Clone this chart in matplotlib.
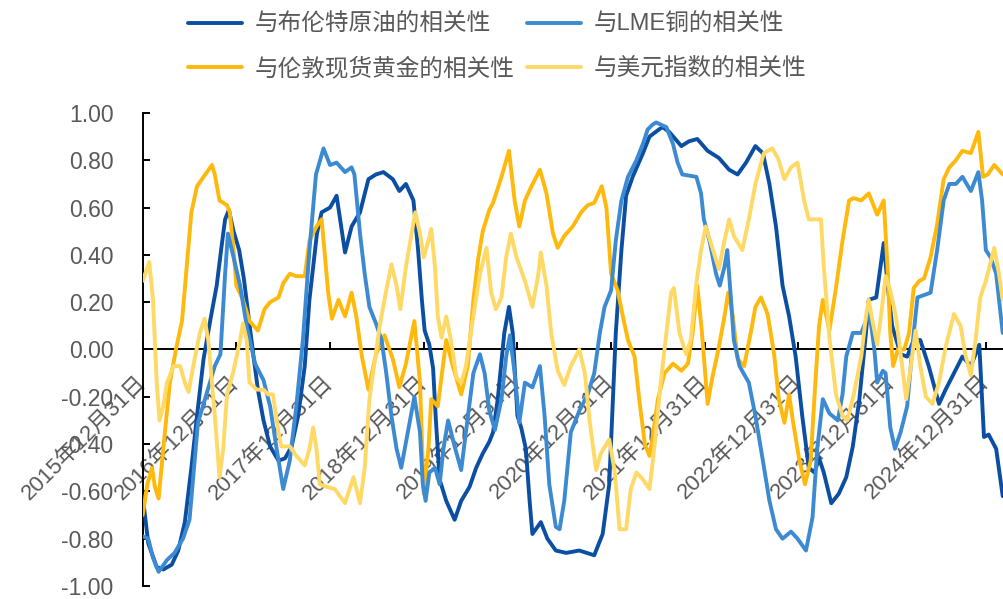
import matplotlib
matplotlib.use("Agg")
import matplotlib.pyplot as plt

# Rolling correlation series; x is expressed in decimal years
brent_t = [2016.00, 2016.06, 2016.15, 2016.22, 2016.31, 2016.38, 2016.45, 2016.52, 2016.58, 2016.65,
           2016.72, 2016.79, 2016.84, 2016.88, 2016.92, 2016.97, 2017.03, 2017.08, 2017.13, 2017.18,
           2017.23, 2017.29, 2017.36, 2017.45, 2017.52, 2017.59, 2017.66, 2017.73, 2017.78, 2017.86,
           2017.91, 2018.00, 2018.07, 2018.16, 2018.23, 2018.32, 2018.41, 2018.49, 2018.57, 2018.67,
           2018.74, 2018.81, 2018.89, 2018.94, 2018.98, 2019.01, 2019.06, 2019.10, 2019.13, 2019.17,
           2019.24, 2019.33, 2019.40, 2019.49, 2019.56, 2019.63, 2019.70, 2019.74, 2019.79, 2019.86,
           2019.91, 2019.95, 2020.00, 2020.04, 2020.09, 2020.13, 2020.16, 2020.25, 2020.32, 2020.41,
           2020.52, 2020.66, 2020.82, 2020.91, 2020.98, 2021.02, 2021.05, 2021.11, 2021.16, 2021.23,
           2021.34, 2021.41, 2021.51, 2021.55, 2021.62, 2021.75, 2021.83, 2021.92, 2022.03, 2022.15,
           2022.26, 2022.35, 2022.44, 2022.54, 2022.62, 2022.69, 2022.76, 2022.83, 2022.90, 2022.97,
           2023.04, 2023.11, 2023.17, 2023.22, 2023.27, 2023.35, 2023.43, 2023.51, 2023.58, 2023.65,
           2023.72, 2023.75, 2023.83, 2023.91, 2023.95, 2024.00, 2024.09, 2024.16, 2024.23, 2024.30,
           2024.39, 2024.50, 2024.57, 2024.66, 2024.75, 2024.84, 2024.93, 2024.98, 2025.03, 2025.11,
           2025.18]
brent_v = [-0.62, -0.82, -0.92, -0.93, -0.91, -0.85, -0.73, -0.50, -0.28, -0.04,
           0.12, 0.27, 0.43, 0.55, 0.59, 0.50, 0.42, 0.30, 0.14, -0.02,
           -0.17, -0.30, -0.41, -0.47, -0.46, -0.41, -0.28, -0.07, 0.21, 0.49,
           0.58, 0.60, 0.65, 0.41, 0.52, 0.58, 0.72, 0.74, 0.75, 0.72,
           0.67, 0.70, 0.63, 0.42, 0.21, 0.08, 0.02, -0.08, -0.30, -0.55,
           -0.64, -0.72, -0.64, -0.58, -0.50, -0.44, -0.39, -0.35, -0.21, 0.07,
           0.18, 0.07, -0.28, -0.33, -0.42, -0.64, -0.78, -0.73, -0.80, -0.85,
           -0.86, -0.85, -0.87, -0.78, -0.57, -0.21, 0.07, 0.42, 0.65, 0.73,
           0.83, 0.90, 0.93, 0.94, 0.92, 0.86, 0.88, 0.89, 0.84, 0.81,
           0.76, 0.74, 0.79, 0.86, 0.83, 0.70, 0.52, 0.27, 0.14, -0.03,
           -0.28, -0.50, -0.52, -0.46, -0.52, -0.65, -0.61, -0.54, -0.41, -0.21,
           0.07, 0.21, 0.22, 0.45, 0.28, 0.10, -0.02, -0.03, 0.04, 0.04,
           -0.07, -0.23, -0.17, -0.10, -0.03, -0.07, 0.02, -0.37, -0.36, -0.42,
           -0.62]

copper_t = [2016.00, 2016.06, 2016.11, 2016.17, 2016.26, 2016.34, 2016.43, 2016.50, 2016.54, 2016.59,
            2016.68, 2016.77, 2016.83, 2016.88, 2016.91, 2016.97, 2017.04, 2017.11, 2017.20, 2017.29,
            2017.36, 2017.43, 2017.50, 2017.57, 2017.64, 2017.71, 2017.78, 2017.85, 2017.93, 2018.00,
            2018.07, 2018.16, 2018.23, 2018.26, 2018.32, 2018.37, 2018.42, 2018.49, 2018.55, 2018.60,
            2018.655, 2018.71, 2018.76, 2018.83, 2018.90, 2018.96, 2018.99, 2019.02, 2019.06, 2019.12,
            2019.17, 2019.21, 2019.26, 2019.33, 2019.40, 2019.45, 2019.53, 2019.60, 2019.65, 2019.70,
            2019.76, 2019.83, 2019.88, 2019.92, 2019.97, 2020.02, 2020.08, 2020.16, 2020.24, 2020.29,
            2020.34, 2020.41, 2020.45, 2020.50, 2020.57, 2020.66, 2020.75, 2020.82, 2020.88, 2020.93,
            2021.00, 2021.05, 2021.11, 2021.18, 2021.27, 2021.34, 2021.39, 2021.44, 2021.48, 2021.59,
            2021.66, 2021.71, 2021.76, 2021.91, 2021.96, 2021.99, 2022.05, 2022.12, 2022.16, 2022.21,
            2022.24, 2022.28, 2022.31, 2022.37, 2022.47, 2022.54, 2022.62, 2022.69, 2022.76, 2022.83,
            2022.92, 2022.99, 2023.08, 2023.15, 2023.20, 2023.26, 2023.33, 2023.42, 2023.47, 2023.51,
            2023.58, 2023.67, 2023.72, 2023.75, 2023.81, 2023.84, 2023.90, 2023.93, 2023.98, 2024.03,
            2024.09, 2024.16, 2024.23, 2024.27, 2024.34, 2024.41, 2024.48, 2024.55, 2024.61, 2024.68,
            2024.75, 2024.84, 2024.92, 2024.96, 2025.00, 2025.05, 2025.11, 2025.18]
copper_v = [-0.79, -0.80, -0.88, -0.94, -0.89, -0.86, -0.80, -0.72, -0.54, -0.31,
            -0.19, -0.07, -0.02, 0.32, 0.49, 0.39, 0.27, 0.10, -0.06, -0.13,
            -0.24, -0.42, -0.59, -0.47, -0.24, 0.04, 0.42, 0.74, 0.85, 0.78,
            0.79, 0.75, 0.77, 0.74, 0.49, 0.32, 0.18, 0.11, 0.04, -0.10,
            -0.28, -0.42, -0.50, -0.35, -0.20, -0.35, -0.57, -0.64, -0.52, -0.50,
            -0.57, -0.42, -0.30, -0.41, -0.51, -0.35, -0.10, -0.02, -0.10, -0.26,
            -0.34, -0.21, -0.03, 0.06, -0.10, -0.31, -0.14, -0.16, -0.07, -0.28,
            -0.57, -0.75, -0.76, -0.64, -0.35, -0.26, -0.19, -0.10, 0.07, 0.18,
            0.25, 0.46, 0.63, 0.73, 0.80, 0.87, 0.93, 0.95, 0.96, 0.94,
            0.87, 0.79, 0.74, 0.73, 0.66, 0.55, 0.46, 0.32, 0.27, 0.35,
            0.42, 0.21, 0.04, -0.07, -0.14, -0.28, -0.47, -0.64, -0.76, -0.80,
            -0.77, -0.80, -0.85, -0.71, -0.42, -0.21, -0.27, -0.30, -0.19, -0.03,
            0.07, 0.07, 0.12, 0.18, 0.00, -0.14, -0.09, -0.10, -0.33, -0.42,
            -0.35, -0.24, 0.07, 0.22, 0.23, 0.24, 0.42, 0.63, 0.70, 0.70,
            0.73, 0.67, 0.75, 0.63, 0.42, 0.39, 0.32, 0.07]

gold_t = [2016.00, 2016.05, 2016.10, 2016.13, 2016.17, 2016.22, 2016.29, 2016.36, 2016.42, 2016.47,
          2016.52, 2016.58, 2016.65, 2016.74, 2016.77, 2016.82, 2016.90, 2016.93, 2016.97, 2017.00,
          2017.07, 2017.14, 2017.23, 2017.30, 2017.36, 2017.45, 2017.50, 2017.57, 2017.64, 2017.73,
          2017.78, 2017.855, 2017.91, 2017.94, 2017.98, 2018.02, 2018.09, 2018.16, 2018.23, 2018.28,
          2018.34, 2018.41, 2018.49, 2018.58, 2018.67, 2018.74, 2018.81, 2018.90, 2018.96, 2019.00,
          2019.05, 2019.08, 2019.15, 2019.24, 2019.31, 2019.40, 2019.47, 2019.53, 2019.58, 2019.63,
          2019.70, 2019.74, 2019.83, 2019.91, 2019.97, 2020.02, 2020.08, 2020.15, 2020.24, 2020.31,
          2020.38, 2020.43, 2020.50, 2020.59, 2020.68, 2020.75, 2020.82, 2020.90, 2020.95, 2021.00,
          2021.07, 2021.12, 2021.18, 2021.25, 2021.30, 2021.36, 2021.41, 2021.44, 2021.50, 2021.57,
          2021.66, 2021.75, 2021.82, 2021.87, 2021.92, 2021.97, 2022.03, 2022.08, 2022.15, 2022.21,
          2022.25, 2022.30, 2022.35, 2022.42, 2022.49, 2022.54, 2022.60, 2022.67, 2022.74, 2022.79,
          2022.85, 2022.90, 2022.94, 2023.01, 2023.07, 2023.13, 2023.18, 2023.22, 2023.26, 2023.33,
          2023.40, 2023.47, 2023.54, 2023.59, 2023.67, 2023.75, 2023.79, 2023.84, 2023.91, 2023.95,
          2023.98, 2024.01, 2024.06, 2024.13, 2024.18, 2024.23, 2024.29, 2024.34, 2024.41, 2024.48,
          2024.55, 2024.61, 2024.68, 2024.75, 2024.84, 2024.92, 2024.97, 2025.02, 2025.09, 2025.18]
gold_v = [-0.70, -0.57, -0.50, -0.58, -0.63, -0.42, -0.14, 0.01, 0.12, 0.35,
          0.58, 0.69, 0.73, 0.78, 0.74, 0.63, 0.61, 0.58, 0.42, 0.27,
          0.21, 0.12, 0.08, 0.17, 0.20, 0.22, 0.28, 0.32, 0.31, 0.31,
          0.46, 0.52, 0.55, 0.42, 0.24, 0.13, 0.21, 0.14, 0.24, 0.14,
          -0.03, -0.17, -0.02, 0.06, -0.04, -0.16, -0.06, 0.12, -0.14, -0.61,
          -0.42, -0.21, -0.24, 0.04, -0.07, -0.19, -0.07, 0.21, 0.38, 0.50,
          0.59, 0.62, 0.73, 0.84, 0.63, 0.52, 0.63, 0.69, 0.76, 0.66,
          0.49, 0.43, 0.48, 0.52, 0.58, 0.61, 0.62, 0.69, 0.60, 0.32,
          0.25, 0.15, 0.04, -0.03, -0.21, -0.40, -0.45, -0.38, -0.21, -0.10,
          -0.06, -0.09, -0.06, 0.07, 0.27, 0.07, -0.23, -0.12, 0.01, 0.14,
          0.24, 0.14, -0.04, -0.07, 0.07, 0.18, 0.22, 0.15, -0.02, -0.21,
          -0.31, -0.19, -0.30, -0.47, -0.57, -0.47, -0.14, 0.10, 0.21, 0.08,
          0.26, 0.46, 0.63, 0.64, 0.63, 0.66, 0.62, 0.57, 0.63, 0.35,
          0.07, -0.07, 0.00, 0.00, 0.07, 0.26, 0.29, 0.30, 0.39, 0.53,
          0.72, 0.77, 0.80, 0.84, 0.83, 0.92, 0.73, 0.74, 0.78, 0.74]

usd_t = [2016.00, 2016.07, 2016.11, 2016.15, 2016.18, 2016.22, 2016.26, 2016.33, 2016.40, 2016.45,
         2016.49, 2016.54, 2016.61, 2016.66, 2016.70, 2016.77, 2016.82, 2016.86, 2016.90, 2016.97,
         2017.04, 2017.07, 2017.11, 2017.14, 2017.22, 2017.29, 2017.34, 2017.39, 2017.45, 2017.48,
         2017.57, 2017.64, 2017.73, 2017.78, 2017.82, 2017.855, 2017.89, 2017.96, 2018.05, 2018.16,
         2018.25, 2018.32, 2018.37, 2018.42, 2018.48, 2018.53, 2018.60, 2018.655, 2018.71, 2018.75,
         2018.81, 2018.87, 2018.91, 2018.96, 2019.00, 2019.05, 2019.08, 2019.12, 2019.15, 2019.19,
         2019.24, 2019.29, 2019.35, 2019.40, 2019.45, 2019.53, 2019.60, 2019.67, 2019.72, 2019.77,
         2019.83, 2019.88, 2019.93, 2019.99, 2020.08, 2020.16, 2020.22, 2020.25, 2020.31, 2020.36,
         2020.43, 2020.50, 2020.57, 2020.66, 2020.72, 2020.77, 2020.84, 2020.89, 2020.98, 2021.04,
         2021.09, 2021.16, 2021.21, 2021.27, 2021.34, 2021.41, 2021.46, 2021.53, 2021.59, 2021.64,
         2021.67, 2021.73, 2021.80, 2021.85, 2021.91, 2021.96, 2022.01, 2022.08, 2022.15, 2022.21,
         2022.26, 2022.31, 2022.40, 2022.47, 2022.54, 2022.63, 2022.72, 2022.78, 2022.85, 2022.92,
         2022.99, 2023.06, 2023.11, 2023.20, 2023.24, 2023.27, 2023.33, 2023.40, 2023.47, 2023.52,
         2023.59, 2023.67, 2023.72, 2023.75, 2023.79, 2023.84, 2023.88, 2023.93, 2023.98, 2024.04,
         2024.09, 2024.15, 2024.20, 2024.25, 2024.30, 2024.36, 2024.43, 2024.50, 2024.57, 2024.66,
         2024.73, 2024.78, 2024.84, 2024.89, 2024.94, 2025.00, 2025.09, 2025.14, 2025.18]
usd_v = [0.29, 0.37, 0.21, -0.14, -0.30, -0.24, -0.14, -0.07, -0.07, -0.14,
         -0.18, -0.07, 0.07, 0.13, 0.04, -0.28, -0.54, -0.42, -0.19, -0.09,
         0.04, 0.11, 0.04, -0.14, -0.17, -0.17, -0.19, -0.19, -0.35, -0.41,
         -0.41, -0.45, -0.49, -0.42, -0.33, -0.42, -0.57, -0.58, -0.59, -0.65,
         -0.54, -0.65, -0.50, -0.21, -0.04, 0.10, 0.25, 0.36, 0.27, 0.17,
         0.35, 0.49, 0.58, 0.49, 0.39, 0.46, 0.51, 0.35, 0.14, 0.05,
         0.14, 0.04, -0.12, -0.14, -0.07, 0.14, 0.32, 0.43, 0.24, 0.17,
         0.22, 0.39, 0.49, 0.39, 0.29, 0.18, 0.31, 0.41, 0.27, 0.07,
         -0.09, -0.15, -0.07, 0.00, -0.10, -0.30, -0.51, -0.44, -0.38, -0.52,
         -0.76, -0.76, -0.59, -0.52, -0.55, -0.59, -0.42, -0.14, 0.07, 0.24,
         0.26, 0.07, -0.02, 0.04, 0.28, 0.42, 0.52, 0.43, 0.34, 0.46,
         0.55, 0.48, 0.42, 0.55, 0.70, 0.83, 0.85, 0.81, 0.72, 0.77,
         0.79, 0.63, 0.55, 0.55, 0.55, 0.35, 0.05, -0.19, -0.28, -0.30,
         -0.19, -0.03, 0.14, 0.21, 0.12, 0.02, 0.14, 0.31, 0.25, 0.14,
         -0.02, -0.21, -0.07, 0.08, -0.07, -0.20, -0.23, -0.14, 0.01, 0.15,
         0.10, -0.02, -0.11, 0.04, 0.22, 0.29, 0.43, 0.32, 0.21]

series_labels = ["与布伦特原油的相关性", "与伦敦现货黄金的相关性",
                 "与LME铜的相关性", "与美元指数的相关性"]
series_colors = ["#0B4EA2", "#FFB80C", "#3B8AD2", "#FFD966"]

year_ticks = [2016, 2017, 2018, 2019, 2020, 2021, 2022, 2023, 2024, 2025]
year_labels = ["2015年12月31日", "2016年12月31日", "2017年12月31日", "2018年12月31日",
               "2019年12月31日", "2020年12月31日", "2021年12月31日", "2022年12月31日",
               "2023年12月31日", "2024年12月31日"]
y_ticks = [-1.0, -0.8, -0.6, -0.4, -0.2, 0.0, 0.2, 0.4, 0.6, 0.8, 1.0]

font_stack = ["Liberation Sans", "Noto Sans CJK SC", "DejaVu Sans"]
plt.rcParams["font.family"] = font_stack
text_grey = "#595959"

fig = plt.figure(figsize=(10.04, 5.99), dpi=100)
ax = fig.add_axes([0.1421, 0.0217, 0.8569, 0.7897])

series = [(brent_t, brent_v), (gold_t, gold_v), (copper_t, copper_v), (usd_t, usd_v)]
for (t, v), lab, col in zip(series, series_labels, series_colors):
    ax.plot(t, v, color=col, lw=2.8, label=lab, zorder=3,
            solid_joinstyle="round", solid_capstyle="round")

ax.set_xlim(2016.0, 2025.183)
ax.set_ylim(-1.0, 1.0)

ax.spines["top"].set_visible(False)
ax.spines["right"].set_visible(False)
ax.spines["bottom"].set_position(("data", 0))
for s in ("left", "bottom"):
    ax.spines[s].set_linewidth(1.4)
    ax.spines[s].set_color("black")

ax.set_yticks(y_ticks)
ax.set_yticklabels([f"{v:.2f}" for v in y_ticks])
ax.tick_params(axis="y", direction="in", length=5, width=1.4, pad=21,
               labelsize=16.5, labelcolor=text_grey)

ax.set_xticks(year_ticks)
ax.set_xticklabels(year_labels)
ax.tick_params(axis="x", direction="in", length=5, width=1.4, pad=21,
               labelsize=16, labelcolor=text_grey)
for lbl in ax.get_xticklabels():
    lbl.set_rotation(45)
    lbl.set_ha("right")
    lbl.set_va("center")
    lbl.set_rotation_mode("anchor")

fig.legend(loc="center", bbox_to_anchor=(0.4953, 0.9212), ncol=2, frameon=False,
           fontsize=17, labelcolor=text_grey, handlelength=2.25, handletextpad=0.55,
           columnspacing=0.55, labelspacing=0.9)

fig.savefig("out.png", dpi=100)
